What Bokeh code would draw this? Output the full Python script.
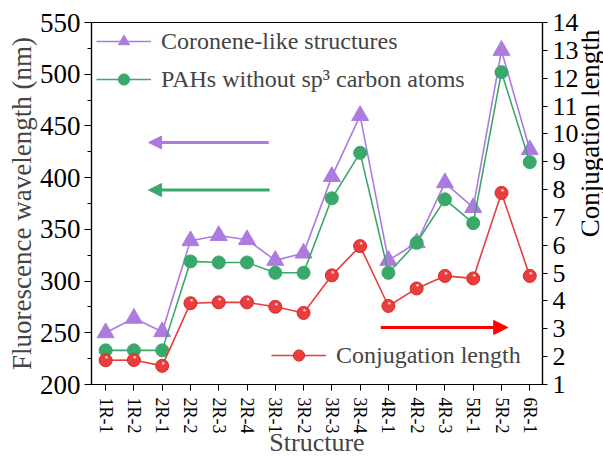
import math
from bokeh.plotting import figure
from bokeh.layouts import row
from bokeh.models import (Range1d, LinearAxis, FixedTicker, Legend, LegendItem,
                          Arrow, NormalHead, ColumnDataSource, Label)
from bokeh.core.properties import value
from bokeh.embed import file_html
from bokeh.resources import INLINE

categories = ["1R-1", "1R-2", "2R-1", "2R-2", "2R-3", "2R-4", "3R-1", "3R-2",
              "3R-3", "3R-4", "4R-1", "4R-2", "4R-3", "5R-1", "5R-2", "6R-1"]
coronene = [250, 264, 251, 339, 344, 340, 320, 327, 401, 460, 320, 337, 395, 371, 523, 427]
pahs = [233, 233, 233, 319, 318, 318, 308, 308, 380, 424, 308, 337, 379, 356, 502, 415]
conj = [1.87, 1.88, 1.67, 3.92, 3.95, 3.95, 3.79, 3.57, 4.92, 5.97, 3.82, 4.45, 4.90, 4.81, 7.88, 4.90]

left_ticks = [200, 250, 300, 350, 400, 450, 500, 550]
left_minor = [225, 275, 325, 375, 425, 475, 525]
right_ticks = list(range(1, 15))

# annotation arrows (data coordinates)
purple_arrow = dict(x_start=5.77, x_end=1.52, y=434)
green_arrow = dict(x_start=5.80, x_end=1.52, y=388)
red_arrow = dict(x_start=9.73, x_end=14.22, y=3.05)

PURPLE = "#ad7be0"
GREEN = "#3aa86a"
RED = "#ea3d3d"
FONT = "Liberation Serif"

x = list(range(len(categories)))
src = ColumnDataSource(dict(x=x, cor=coronene, pah=pahs, conj=conj))

p = figure(frame_width=451, frame_height=362, output_backend="svg", toolbar_location=None,
           x_range=Range1d(-0.5, 15.45), y_range=Range1d(200, 550),
           min_border_left=91, min_border_right=36, min_border_top=22, min_border_bottom=74)
p.extra_y_ranges = {"conj": Range1d(1, 14)}
p.xgrid.visible = False
p.ygrid.visible = False
p.outline_line_color = "black"
p.outline_line_width = 1.2
p.background_fill_color = "white"
p.border_fill_color = "white"

# lines & markers
l1 = p.line("x", "cor", source=src, line_color=PURPLE, line_width=1.6)
m1 = p.scatter("x", "cor", source=src, marker="triangle", size=17, fill_color=PURPLE,
               line_color=PURPLE)
l2 = p.line("x", "pah", source=src, line_color=GREEN, line_width=1.6)
m2 = p.scatter("x", "pah", source=src, marker="circle", size=13, fill_color=GREEN,
               line_color=GREEN)
l3 = p.line("x", "conj", source=src, line_color=RED, line_width=1.6, y_range_name="conj")
m3 = p.scatter("x", "conj", source=src, marker="circle", size=13, fill_color=RED,
               line_color="#d02c2c", y_range_name="conj")
p.text("x", "conj", source=src, text=value("●"), y_range_name="conj",
       text_color="white", text_alpha=0.75, text_font_size="6px",
       x_offset=1, y_offset=-3, text_align="center", text_baseline="middle")

# arrows
p.add_layout(Arrow(end=NormalHead(size=13, fill_color=PURPLE, line_color=PURPLE),
                   x_start=purple_arrow["x_start"], y_start=purple_arrow["y"],
                   x_end=purple_arrow["x_end"], y_end=purple_arrow["y"],
                   line_color=PURPLE, line_width=3))
p.add_layout(Arrow(end=NormalHead(size=13, fill_color=GREEN, line_color=GREEN),
                   x_start=green_arrow["x_start"], y_start=green_arrow["y"],
                   x_end=green_arrow["x_end"], y_end=green_arrow["y"],
                   line_color=GREEN, line_width=3))
p.add_layout(Arrow(end=NormalHead(size=14, fill_color="#ff0000", line_color="#ff0000"),
                   x_start=red_arrow["x_start"], y_start=red_arrow["y"],
                   x_end=red_arrow["x_end"], y_end=red_arrow["y"],
                   line_color="#ff0000", line_width=3, y_range_name="conj"))

# axes
xa = p.xaxis[0]
xa.ticker = FixedTicker(ticks=x)
xa.major_label_overrides = {i: c for i, c in enumerate(categories)}
xa.major_label_orientation = -math.pi / 2
xa.major_label_text_font = FONT
xa.major_label_text_font_size = "18px"
xa.major_label_text_color = "black"
xa.major_tick_out = 6
xa.major_tick_in = 0
xa.minor_tick_out = 0
xa.major_label_standoff = 7
xa.axis_label = "Structure"
xa.axis_label_text_font = FONT
xa.axis_label_text_font_size = "26px"
xa.axis_label_text_font_style = "normal"
xa.axis_label_standoff = -9
xa.axis_line_width = 1.2

ya = p.yaxis[0]
ya.ticker = FixedTicker(ticks=left_ticks, minor_ticks=left_minor)
ya.major_label_text_font = FONT
ya.major_label_text_font_size = "27px"
ya.major_label_text_color = "black"
ya.major_tick_out = 7
ya.major_tick_in = 0
ya.minor_tick_out = 4
ya.minor_tick_in = 0
ya.major_label_standoff = 4
ya.axis_label = "Fluorescence wavelength (nm)"
ya.axis_label_text_font = FONT
ya.axis_label_text_font_size = "27px"
ya.axis_label_text_font_style = "normal"
ya.axis_label_standoff = 0
ya.axis_line_width = 1.2

ra = LinearAxis(y_range_name="conj", ticker=FixedTicker(ticks=right_ticks))
ra.major_label_text_font = FONT
ra.major_label_text_font_size = "26px"
ra.major_label_text_color = "black"
ra.major_tick_out = 5
ra.major_tick_in = 0
ra.minor_tick_out = 0
ra.major_label_standoff = 5
ra.axis_line_width = 1.2
p.add_layout(ra, "right")

# legends
leg1 = Legend(items=[LegendItem(label="Coronene-like structures", renderers=[l1, m1]),
                     LegendItem(label="PAHs without sp³ carbon atoms", renderers=[l2, m2])],
              location=(5, 291), margin=0, padding=5, spacing=10,
              glyph_width=55, glyph_height=28, label_height=28, label_standoff=10,
              label_text_font=FONT, label_text_font_size="24px",
              border_line_color=None, background_fill_alpha=0)
leg2 = Legend(items=[LegendItem(label="Conjugation length", renderers=[l3, m3])],
              location=(180, 15), margin=0, padding=5,
              glyph_width=55, glyph_height=28, label_height=28, label_standoff=10,
              label_text_font=FONT, label_text_font_size="24px",
              border_line_color=None, background_fill_alpha=0)
p.add_layout(leg1)
p.add_layout(leg2)

# narrow strip on the right that carries the right-axis title (reads bottom to top)
t = figure(width=25, height=458, output_backend="svg", toolbar_location=None,
           x_range=Range1d(0, 1), y_range=Range1d(0, 1),
           x_axis_location=None, y_axis_location=None,
           min_border_left=0, min_border_right=0, min_border_top=0, min_border_bottom=0)
t.grid.visible = False
t.outline_line_color = None
t.border_fill_color = "white"
t.background_fill_color = "white"
t.add_layout(Label(x=8, y=250, x_units="screen", y_units="screen",
                   text="Conjugation length", angle=math.pi / 2,
                   text_align="center", text_baseline="middle",
                   text_font=FONT, text_font_size="27px", text_color="black"))

layout = row(p, t, spacing=0)
open("out.html", "w").write(file_html(layout, INLINE))
